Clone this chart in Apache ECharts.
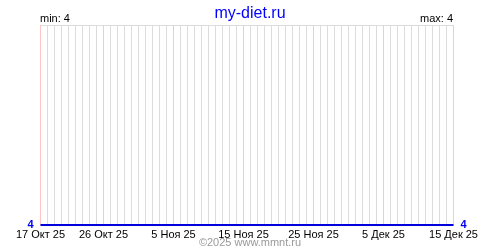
<!DOCTYPE html>
<html><head><meta charset="utf-8">
<script src="https://cdn.jsdelivr.net/npm/echarts@6/dist/echarts.min.js"></script>
<style>html,body{margin:0;padding:0;background:#fff}#c{width:500px;height:250px}</style>
</head><body><div id="c"></div>
<script>
// Days from 17 Oct 2025 to 15 Dec 2025
const categories = [
 '17.10','18.10','19.10','20.10','21.10','22.10','23.10','24.10','25.10','26.10',
 '27.10','28.10','29.10','30.10','31.10','01.11','02.11','03.11','04.11','05.11',
 '06.11','07.11','08.11','09.11','10.11','11.11','12.11','13.11','14.11','15.11',
 '16.11','17.11','18.11','19.11','20.11','21.11','22.11','23.11','24.11','25.11',
 '26.11','27.11','28.11','29.11','30.11','01.12','02.12','03.12','04.12','05.12',
 '06.12','07.12','08.12','09.12','10.12','11.12','12.12','13.12','14.12','15.12'
];
const weights = [
 4,4,4,4,4,4,4,4,4,4, 4,4,4,4,4,4,4,4,4,4,
 4,4,4,4,4,4,4,4,4,4, 4,4,4,4,4,4,4,4,4,4,
 4,4,4,4,4,4,4,4,4,4, 4,4,4,4,4,4,4,4,4,4
];
const tickLabels = {
 '17.10':'17 Окт 25','26.10':'26 Окт 25','05.11':'5 Ноя 25','15.11':'15 Ноя 25',
 '25.11':'25 Ноя 25','05.12':'5 Дек 25','15.12':'15 Дек 25'
};
const minVal = 4, maxVal = 4;

const FONT = 'Liberation Sans';
const GRAY = '#dcdcdc', PINK = '#ffc4c4';

const gridLines = categories.filter(c => !tickLabels[c]).map(c => ({xAxis: c, lineStyle: {color: GRAY}}))
  .concat(Object.keys(tickLabels).map(c => ({xAxis: c, lineStyle: {color: PINK}})));

const yAxisBase = {
  type: 'value', min: 4, max: 5, interval: 1,
  axisLine: {show: false}, axisTick: {show: false},
  splitLine: {show: true, lineStyle: {color: GRAY, width: 1}},
  axisLabel: {
    color: '#0000ee', fontFamily: FONT, fontSize: 11, fontWeight: 'bold', margin: 7,
    formatter: v => v === 4 ? String(v) : ''
  }
};

const chart = echarts.init(document.getElementById('c'), null, {renderer: 'canvas'});
chart.setOption({
  animation: false,
  backgroundColor: '#fff',
  title: {
    text: 'my-diet.ru', left: 'center', top: 1,
    textStyle: {color: '#0000ff', fontFamily: FONT, fontSize: 16, fontWeight: 'normal'}
  },
  grid: {left: 40.5, right: 46.5, top: 25, bottom: 25, containLabel: false},
  xAxis: {
    type: 'category', data: categories, boundaryGap: false,
    axisLine: {show: false}, axisTick: {show: false},
    splitLine: {show: false},
    axisLabel: {
      interval: 0, color: '#000', fontFamily: FONT, fontSize: 11, margin: 4,
      formatter: v => tickLabels[v] || ''
    }
  },
  yAxis: [
    Object.assign({}, yAxisBase, {position: 'left'}),
    Object.assign({}, yAxisBase, {position: 'right', splitLine: {show: false}})
  ],
  series: [{
    type: 'line', data: weights, symbol: 'none',
    lineStyle: {color: '#0000dd', width: 2}, z: 5,
    markLine: {
      silent: true, symbol: ['none', 'none'], label: {show: false}, z: 1,
      lineStyle: {width: 1, type: 'solid', opacity: 1},
      data: gridLines
    }
  }],
  graphic: [
    {type: 'text', left: 40, top: 13, style: {text: 'min: ' + minVal, fill: '#000', font: '11px "' + FONT + '"'}},
    {type: 'text', right: 47, top: 13, style: {text: 'max: ' + maxVal, fill: '#000', font: '11px "' + FONT + '"', textAlign: 'right'}},
    {type: 'text', left: 'center', top: 237, style: {text: '©2025 www.mmnt.ru', fill: '#999999', font: '11px "' + FONT + '"'}}
  ]
});
</script></body></html>
